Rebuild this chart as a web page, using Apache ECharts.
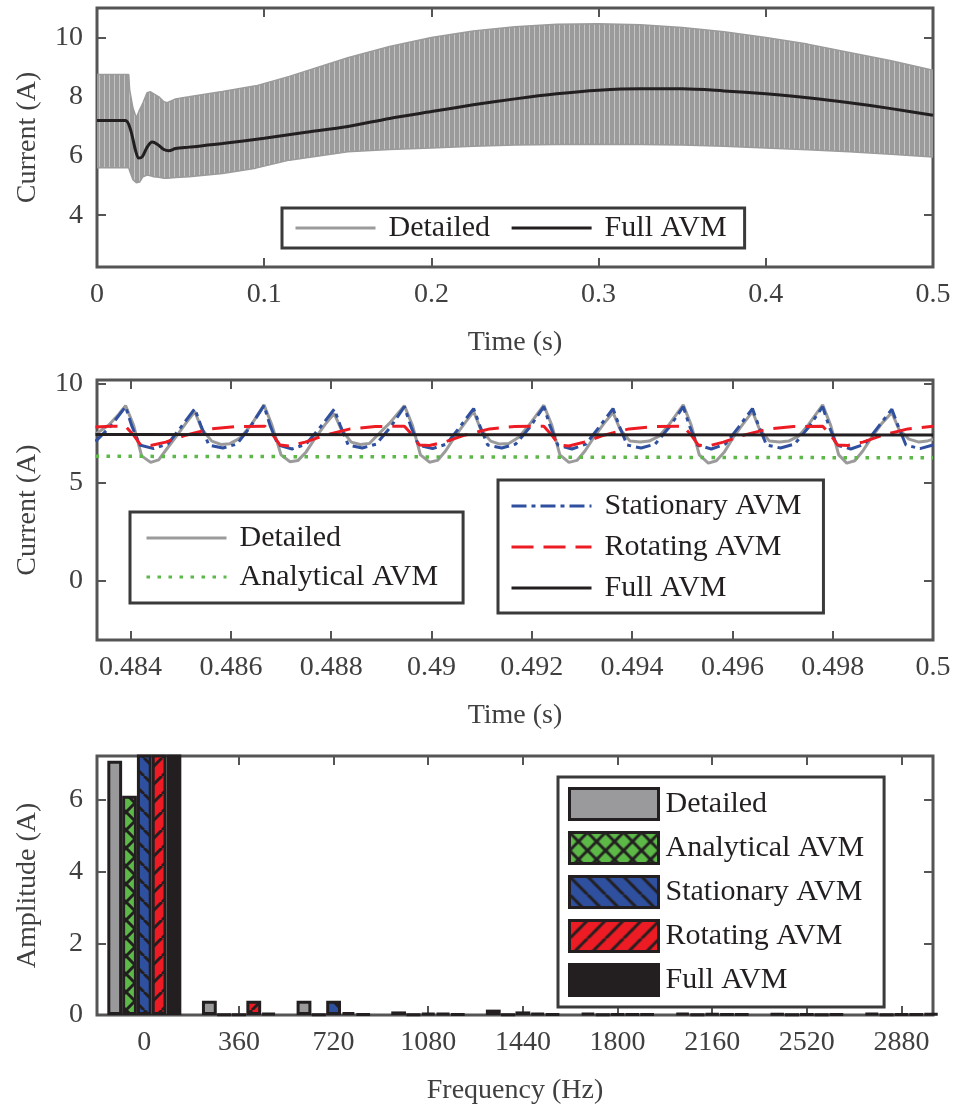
<!DOCTYPE html>
<html>
<head>
<meta charset="utf-8">
<script src="https://cdn.jsdelivr.net/npm/echarts@6/dist/echarts.min.js"></script>
<style>
  html, body { margin: 0; padding: 0; background: #fff; }
  #wrap { position: relative; width: 955px; height: 1112px; }
  .panel { position: absolute; left: 0; width: 955px; }
</style>
</head>
<body>
<div id="wrap">
  <div id="p1" class="panel" style="top:0;height:370px"></div>
  <div id="p2" class="panel" style="top:370px;height:370px"></div>
  <div id="p3" class="panel" style="top:740px;height:372px"></div>
</div>
<script>
// ---------- Panel 1: full 0.5 s run ----------
const envTime  = [0, 0.019, 0.0195, 0.0215, 0.0235, 0.0255, 0.0275, 0.030, 0.032, 0.034, 0.037, 0.040, 0.042, 0.047, 0.055, 0.075, 0.095, 0.115, 0.15, 0.175, 0.2, 0.225, 0.25, 0.275, 0.3, 0.325, 0.35, 0.375, 0.4, 0.425, 0.45, 0.475, 0.5];
const envUpper = [8.75, 8.75, 8.24, 7.62, 7.29, 7.56, 7.8, 8.14, 8.17, 8.1, 8.0, 7.83, 7.8, 7.93, 8.0, 8.18, 8.37, 8.69, 9.32, 9.7, 10.0, 10.22, 10.37, 10.45, 10.47, 10.43, 10.34, 10.2, 10.0, 9.78, 9.5, 9.22, 8.9];
const envLower = [5.6, 5.6, 5.5, 5.2, 5.1, 5.12, 5.3, 5.36, 5.33, 5.3, 5.28, 5.25, 5.25, 5.27, 5.3, 5.41, 5.59, 5.86, 6.14, 6.22, 6.27, 6.33, 6.37, 6.39, 6.4, 6.39, 6.37, 6.33, 6.27, 6.21, 6.14, 6.06, 5.97];
const fullTime = [0, 0.017, 0.02, 0.023, 0.025, 0.027, 0.03, 0.033, 0.036, 0.04, 0.043, 0.047, 0.055, 0.075, 0.1, 0.125, 0.15, 0.175, 0.2, 0.225, 0.25, 0.275, 0.3, 0.325, 0.35, 0.375, 0.4, 0.425, 0.45, 0.475, 0.5];
const fullVal  = [7.2, 7.2, 6.9, 6.2, 5.93, 5.97, 6.3, 6.47, 6.4, 6.22, 6.18, 6.25, 6.3, 6.42, 6.6, 6.8, 7.0, 7.27, 7.5, 7.73, 7.93, 8.1, 8.22, 8.27, 8.27, 8.2, 8.1, 7.97, 7.8, 7.6, 7.38];
const topXTicks = [0, 0.1, 0.2, 0.3, 0.4, 0.5];
const topYTicks = [4, 6, 8, 10];

// ---------- Panel 2: last 60 Hz cycle ----------
const detailedT = [0.4833, 0.48356, 0.48376, 0.4839, 0.48406, 0.48422, 0.4844, 0.48456, 0.48472, 0.4849, 0.4851, 0.48528, 0.48542, 0.48562, 0.4858, 0.48598, 0.48618, 0.4864, 0.48666, 0.48682, 0.487, 0.48718, 0.48734, 0.4875, 0.48768, 0.48788, 0.48806, 0.4882, 0.4884, 0.48858, 0.48876, 0.48896, 0.48916, 0.48946, 0.48962, 0.48978, 0.48996, 0.49012, 0.49028, 0.49046, 0.49066, 0.49084, 0.49098, 0.49118, 0.49136, 0.49154, 0.49174, 0.49194, 0.49224, 0.4924, 0.49256, 0.49274, 0.4929, 0.49306, 0.49324, 0.49344, 0.49362, 0.49376, 0.49396, 0.49416, 0.49434, 0.49454, 0.49474, 0.49502, 0.49518, 0.49534, 0.49552, 0.49568, 0.49584, 0.49602, 0.49622, 0.4964, 0.49654, 0.49674, 0.49694, 0.49712, 0.49732, 0.49752, 0.4978, 0.49796, 0.49812, 0.49828, 0.49844, 0.4986, 0.49878, 0.49898, 0.49918, 0.49932, 0.49952, 0.49972, 0.49988, 0.5];
const detailedV = [7.45, 7.9, 8.45, 8.9, 7.9, 6.35, 6.02, 6.15, 6.7, 7.3, 8.0, 8.6, 7.7, 7.1, 6.93, 6.97, 7.25, 7.9, 8.94, 7.9, 6.4, 6.05, 6.12, 6.55, 7.25, 7.95, 8.5, 7.7, 7.05, 6.93, 6.98, 7.5, 8.0, 8.9, 7.9, 6.4, 6.03, 6.12, 6.6, 7.3, 8.0, 8.6, 7.7, 7.1, 6.95, 6.98, 7.3, 7.9, 8.92, 7.9, 6.4, 6.02, 6.12, 6.6, 7.3, 8.0, 8.55, 7.7, 7.1, 7.05, 7.1, 7.35, 7.95, 8.94, 7.9, 6.4, 5.98, 6.1, 6.55, 7.3, 8.0, 8.6, 7.7, 7.1, 7.06, 7.1, 7.35, 7.95, 8.94, 7.9, 6.4, 5.98, 6.1, 6.6, 7.3, 8.0, 8.55, 7.7, 7.2, 7.05, 7.1, 7.2];
const stationaryT = [0.4833, 0.4836, 0.4839, 0.48402, 0.48418, 0.48446, 0.48474, 0.485, 0.48528, 0.4854, 0.48556, 0.48584, 0.48612, 0.48638, 0.48666, 0.48678, 0.48694, 0.48722, 0.4875, 0.48778, 0.48806, 0.48818, 0.48834, 0.48862, 0.4889, 0.48918, 0.48946, 0.48958, 0.48974, 0.49002, 0.4903, 0.49056, 0.49084, 0.49096, 0.49112, 0.4914, 0.49168, 0.49196, 0.49224, 0.49236, 0.49252, 0.4928, 0.49308, 0.49334, 0.49362, 0.49374, 0.4939, 0.49418, 0.49446, 0.49474, 0.49502, 0.49514, 0.4953, 0.49558, 0.49586, 0.49612, 0.4964, 0.49652, 0.49668, 0.49696, 0.49724, 0.49752, 0.4978, 0.49792, 0.49808, 0.49836, 0.49864, 0.4989, 0.49918, 0.4993, 0.49946, 0.49974, 0.5];
const stationaryV = [7.08, 7.85, 8.85, 7.9, 6.9, 6.72, 6.95, 7.8, 8.75, 7.9, 6.9, 6.75, 6.95, 7.8, 8.9, 7.9, 6.9, 6.7, 6.95, 7.8, 8.72, 7.9, 6.9, 6.75, 6.95, 7.8, 8.85, 7.9, 6.9, 6.72, 6.95, 7.8, 8.75, 7.9, 6.9, 6.75, 6.95, 7.8, 8.85, 7.9, 6.9, 6.7, 6.95, 7.8, 8.75, 7.9, 6.9, 6.75, 6.95, 7.8, 8.85, 7.9, 6.9, 6.7, 6.95, 7.8, 8.75, 7.9, 6.9, 6.75, 6.95, 7.8, 8.85, 7.9, 6.9, 6.7, 6.95, 7.8, 8.72, 7.9, 6.9, 6.72, 6.9];
const rotatingT = [0.4833, 0.4836, 0.4839, 0.48406, 0.4842, 0.4844, 0.4847, 0.4851, 0.4856, 0.4861, 0.48668, 0.48684, 0.48698, 0.48718, 0.48748, 0.48788, 0.48838, 0.48888, 0.48946, 0.48962, 0.48976, 0.48996, 0.49026, 0.49066, 0.49116, 0.49166, 0.49224, 0.4924, 0.49254, 0.49274, 0.49304, 0.49344, 0.49394, 0.49444, 0.49502, 0.49518, 0.49532, 0.49552, 0.49582, 0.49622, 0.49672, 0.49722, 0.4978, 0.49796, 0.4981, 0.4983, 0.4986, 0.499, 0.4995, 0.5];
const rotatingV = [7.82, 7.85, 7.85, 7.4, 6.9, 6.88, 7.05, 7.4, 7.72, 7.84, 7.86, 7.4, 6.9, 6.85, 7.05, 7.4, 7.72, 7.84, 7.86, 7.4, 6.9, 6.88, 7.05, 7.4, 7.72, 7.84, 7.86, 7.4, 6.9, 6.85, 7.05, 7.4, 7.72, 7.84, 7.86, 7.4, 6.9, 6.85, 7.05, 7.4, 7.72, 7.84, 7.86, 7.4, 6.9, 6.88, 7.05, 7.4, 7.72, 7.85];
const analyticalT = [0.4833, 0.4875, 0.4917, 0.4958, 0.5];
const analyticalV = [6.33, 6.31, 6.29, 6.27, 6.25];
const fullMidT = [0.4833, 0.5];
const fullMidV = [7.43, 7.41];
const midXTicks = [0.484, 0.486, 0.488, 0.49, 0.492, 0.494, 0.496, 0.498, 0.5];
const midYTicks = [0, 5, 10];

// ---------- Panel 3: harmonic spectrum ----------
const freqs      = [0, 360, 720, 1080, 1440, 1800, 2160, 2520, 2880];
const ampDetailed   = [7.1, 0.4, 0.4, 0.1, 0.15, 0.06, 0.06, 0.04, 0.05];
const ampAnalytical = [6.12, 0.02, 0.02, 0.02, 0.02, 0.02, 0.02, 0.02, 0.02];
const ampStationary = [7.4, 0.02, 0.4, 0.05, 0.1, 0.03, 0.04, 0.03, 0.03];
const ampRotating   = [7.4, 0.4, 0.08, 0.05, 0.05, 0.03, 0.03, 0.02, 0.03];
const ampFull       = [7.45, 0.05, 0.03, 0.03, 0.03, 0.03, 0.03, 0.03, 0.04];
const ampYTicks = [0, 2, 4, 6];

// ---------- shared styling ----------
const FONT = 'Liberation Serif';
const AXIS_TEXT = '#404040';
const FRAME = '#555555';
const INK = '#231f20';
const GRAY = '#9b9b9b';

const zip = (xs, ys) => xs.map((x, i) => [x, ys[i]]);

function tickStyle(ticks) {
  return { show: true, inside: true, length: 9, customValues: ticks, lineStyle: { color: FRAME, width: 2 } };
}
function bottomAxis(min, max, ticks, name) {
  return {
    type: 'value', min: min, max: max, position: 'bottom',
    name: name, nameLocation: 'middle', nameGap: 62,
    nameTextStyle: { fontFamily: FONT, fontSize: 28, color: AXIS_TEXT },
    axisLine: { show: false, onZero: false },
    axisTick: tickStyle(ticks),
    axisLabel: { show: true, customValues: ticks, margin: 14, fontFamily: FONT, fontSize: 28, color: AXIS_TEXT, formatter: v => String(v) },
    splitLine: { show: false }
  };
}
function topAxis(min, max, ticks) {
  return {
    type: 'value', min: min, max: max, position: 'top',
    axisLine: { show: false, onZero: false },
    axisTick: tickStyle(ticks),
    axisLabel: { show: false }, splitLine: { show: false }
  };
}
function leftAxis(min, max, ticks, name) {
  return {
    type: 'value', min: min, max: max, position: 'left',
    name: name, nameLocation: 'middle', nameGap: 55,
    nameTextStyle: { fontFamily: FONT, fontSize: 28, color: AXIS_TEXT },
    axisLine: { show: false, onZero: false },
    axisTick: tickStyle(ticks),
    axisLabel: { show: true, customValues: ticks, margin: 14, fontFamily: FONT, fontSize: 28, color: AXIS_TEXT, formatter: v => String(v) },
    splitLine: { show: false }
  };
}
function rightAxis(min, max, ticks) {
  return {
    type: 'value', min: min, max: max, position: 'right',
    axisLine: { show: false, onZero: false },
    axisTick: tickStyle(ticks),
    axisLabel: { show: false }, splitLine: { show: false }
  };
}
function frame(top, height) {
  return { left: 97, top: top, width: 836, height: height, show: true, borderColor: FRAME, borderWidth: 3, backgroundColor: 'transparent' };
}
function legendBox(extra) {
  return Object.assign({
    orient: 'vertical', selectedMode: false,
    backgroundColor: '#fff', borderColor: '#3a3a3a', borderWidth: 3,
    itemWidth: 80, itemHeight: 30,
    textStyle: { fontFamily: FONT, fontSize: 30, color: INK, padding: [0, 0, 0, 8] },
    itemStyle: { opacity: 0 },
    lineStyle: { width: 3, opacity: 1 }
  }, extra);
}

// vertical stripes used to fill the dense switching-ripple band
function stripeFill() {
  const c = document.createElement('canvas');
  c.width = 5; c.height = 4;
  const g = c.getContext('2d');
  g.fillStyle = GRAY; g.fillRect(0, 0, 5, 4);
  g.fillStyle = '#c4c4c4'; g.fillRect(4, 0, 1, 4);
  return { image: c, repeat: 'repeat' };
}
// diagonal hatching for the bar fills
function hatch(bg, dirs) {
  const s = 18;
  const c = document.createElement('canvas');
  c.width = s; c.height = s;
  const g = c.getContext('2d');
  g.fillStyle = bg; g.fillRect(0, 0, s, s);
  g.strokeStyle = INK; g.lineWidth = 3;
  dirs.forEach(d => {
    for (let k = -1; k <= 1; k++) {
      g.beginPath();
      if (d === '/') { g.moveTo(k * s, s); g.lineTo(k * s + s, 0); }
      else { g.moveTo(k * s, 0); g.lineTo(k * s + s, s); }
      g.stroke();
    }
  });
  return { image: c, repeat: 'repeat' };
}

// ---------- chart 1 ----------
const bandFill = stripeFill();
const c1 = echarts.init(document.getElementById('p1'), null, { renderer: 'canvas', devicePixelRatio: 1 });
c1.setOption({
  animation: false,
  grid: frame(8, 259),
  xAxis: [bottomAxis(0, 0.5, topXTicks, 'Time (s)'), topAxis(0, 0.5, topXTicks)],
  yAxis: [leftAxis(2.25, 11, topYTicks, 'Current (A)'), rightAxis(2.25, 11, topYTicks)],
  legend: legendBox({
    orient: 'horizontal', left: 282, top: 208, padding: [5, 18, 5, 12], itemGap: 20,
    data: ['Detailed', 'Full AVM']
  }),
  series: [
    {
      // filled ripple band between the upper and lower envelopes
      type: 'custom', name: 'ripple band', z: 1, clip: true,
      data: envTime.map((t, i) => [t, envUpper[i], envLower[i]]),
      encode: { x: 0, y: [1, 2] },
      renderItem: (params, api) => {
        if (params.dataIndex !== 0) return null;
        const pts = [];
        for (let i = 0; i < envTime.length; i++) pts.push(api.coord([envTime[i], envUpper[i]]));
        for (let i = envTime.length - 1; i >= 0; i--) pts.push(api.coord([envTime[i], envLower[i]]));
        return { type: 'polygon', shape: { points: pts }, style: { fill: bandFill } };
      }
    },
    { type: 'line', name: 'Detailed', data: zip(envTime, envUpper), symbol: 'none',
      lineStyle: { color: GRAY, width: 1.5 }, itemStyle: { color: GRAY }, z: 2 },
    { type: 'line', name: 'ripple floor', data: zip(envTime, envLower), symbol: 'none',
      lineStyle: { color: GRAY, width: 1.5 }, itemStyle: { color: GRAY }, z: 2 },
    { type: 'line', name: 'Full AVM', data: zip(fullTime, fullVal), symbol: 'none', smooth: 0.3,
      lineStyle: { color: INK, width: 3 }, itemStyle: { color: INK }, z: 3 }
  ]
});

// ---------- chart 2 ----------
const c2 = echarts.init(document.getElementById('p2'), null, { renderer: 'canvas', devicePixelRatio: 1 });
function lineSeries(name, ts, vs, color, type, width) {
  return { type: 'line', name: name, data: zip(ts, vs), symbol: 'none',
    itemStyle: { color: color }, lineStyle: { color: color, width: width || 3, type: type || 'solid' } };
}
c2.setOption({
  animation: false,
  grid: frame(8, 262),
  xAxis: [bottomAxis(0.48333, 0.5, midXTicks, 'Time (s)'), topAxis(0.48333, 0.5, midXTicks)],
  yAxis: [leftAxis(-3, 10.2, midYTicks, 'Current (A)'), rightAxis(-3, 10.2, midYTicks)],
  legend: [
    legendBox({ left: 130, top: 142, padding: [11, 25, 11, 15], itemGap: 9, data: ['Detailed', 'Analytical AVM'] }),
    legendBox({ left: 498, top: 110, padding: [11, 22, 10, 12], itemGap: 11, data: ['Stationary AVM', 'Rotating AVM', 'Full AVM'] })
  ],
  series: [
    lineSeries('Detailed', detailedT, detailedV, GRAY),
    lineSeries('Analytical AVM', analyticalT, analyticalV, '#5cb947', [3.5, 7.5], 3.5),
    lineSeries('Stationary AVM', stationaryT, stationaryV, '#2f4f9f', [15, 5, 4, 5]),
    lineSeries('Rotating AVM', rotatingT, rotatingV, '#ed1c24', [22, 10]),
    lineSeries('Full AVM', fullMidT, fullMidV, INK)
  ]
});

// ---------- chart 3 ----------
const c3 = echarts.init(document.getElementById('p3'), null, { renderer: 'canvas', devicePixelRatio: 1 });
function barSeries(name, vals, fill) {
  return {
    type: 'bar', name: name, data: zip(freqs, vals), barWidth: 14.8, barGap: '0%', clip: true,
    itemStyle: { color: fill, borderColor: INK, borderWidth: 3 }
  };
}
c3.setOption({
  animation: false,
  grid: frame(16, 259),
  xAxis: [bottomAxis(-180, 3000, freqs, 'Frequency (Hz)'), topAxis(-180, 3000, freqs)],
  yAxis: [leftAxis(0, 7.23, ampYTicks, 'Amplitude (A)'), rightAxis(0, 7.23, ampYTicks)],
  legend: legendBox({
    left: 558, top: 37, padding: [10, 20, 10, 10], itemGap: 10, itemWidth: 89, itemHeight: 31, icon: 'rect',
    itemStyle: { borderColor: INK, borderWidth: 3 },
    textStyle: { fontFamily: FONT, fontSize: 30, color: INK, padding: [0, 0, 0, 2] },
    data: ['Detailed', 'Analytical AVM', 'Stationary AVM', 'Rotating AVM', 'Full AVM']
  }),
  series: [
    barSeries('Detailed', ampDetailed, '#9a9a9c'),
    barSeries('Analytical AVM', ampAnalytical, hatch('#5cb947', ['/', '\\'])),
    barSeries('Stationary AVM', ampStationary, hatch('#2f4f9f', ['\\'])),
    barSeries('Rotating AVM', ampRotating, hatch('#ed1c24', ['/'])),
    barSeries('Full AVM', ampFull, INK)
  ]
});
</script>
</body>
</html>
